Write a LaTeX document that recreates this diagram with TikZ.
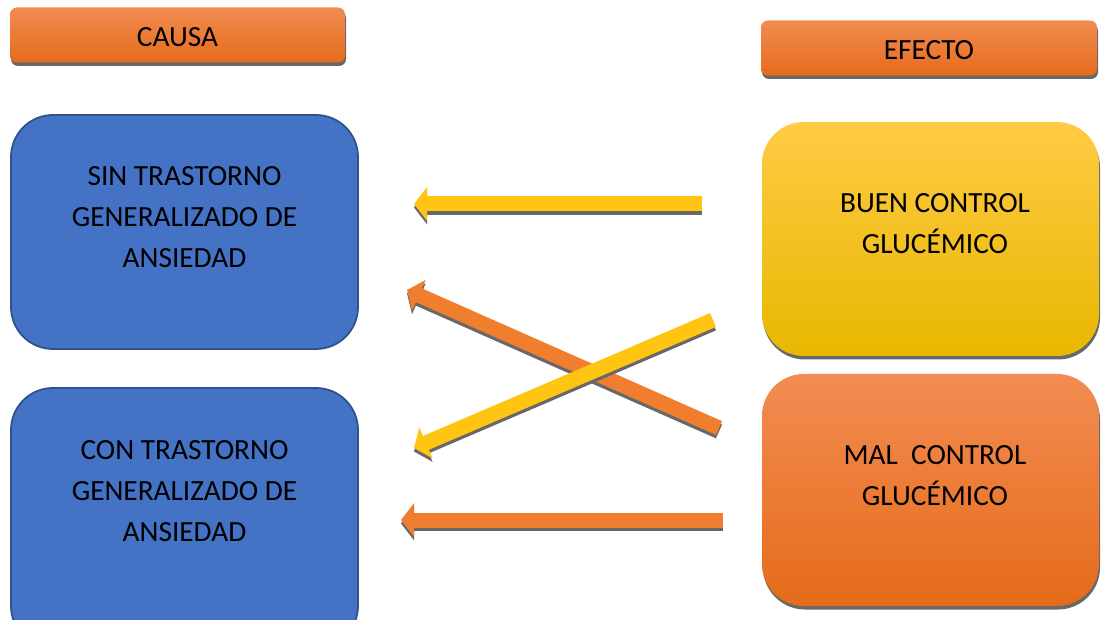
\documentclass[tikz,border=0pt]{standalone}
\usepackage{fontspec}
\setmainfont{Carlito}
\usetikzlibrary{arrows.meta,shadows}
\definecolor{bluefill}{HTML}{4472C4}
\definecolor{blueline}{HTML}{2F528F}
\definecolor{orTop}{HTML}{F28C52}
\definecolor{orMid}{HTML}{F47E2C}
\definecolor{orBot}{HTML}{E56B1A}
\definecolor{yeTop}{HTML}{FFCB45}
\definecolor{yeMid}{HTML}{FFC20A}
\definecolor{yeBot}{HTML}{E8B700}
\definecolor{yeArrow}{HTML}{FFC512}
\definecolor{orArrow}{HTML}{F07E2E}
\definecolor{shadowgray}{HTML}{686868}
\tikzset{
  sh/.style={drop shadow={shadow xshift=1pt,shadow yshift=-3.5pt,fill=shadowgray,opacity=1}},
  headbox/.style={rectangle,rounded corners=7pt,minimum width=335pt,minimum height=55pt,
    top color=orTop,middle color=orMid,bottom color=orBot,sh,inner sep=0pt},
  causebox/.style={rectangle,rounded corners=42pt,minimum width=347pt,minimum height=234pt,
    fill=bluefill,draw=blueline,line width=1.8pt,inner sep=0pt},
  yellowbox/.style={rectangle,rounded corners=42pt,minimum width=337pt,minimum height=234pt,
    top color=yeTop,middle color=yeMid,bottom color=yeBot,sh,inner sep=0pt},
  orangebox/.style={rectangle,rounded corners=42pt,minimum width=337pt,minimum height=232pt,
    top color=orTop,middle color=orMid,bottom color=orBot,sh,inner sep=0pt},
  label/.style={align=center,font=\fontsize{29.3}{41}\selectfont,text=black,inner sep=0pt},
  arrowbase/.style={line width=15pt,-{Triangle[length=13pt,width=33pt]}},
  arrowshadow/.style={arrowbase,draw=shadowgray},
  yarrow/.style={arrowbase,draw=yeArrow},
  oarrow/.style={arrowbase,draw=orArrow},
}
\begin{document}
\begin{tikzpicture}[x=1pt,y=-1pt]
\useasboundingbox (0,0) rectangle (1101,620);
\clip (0,0) rectangle (1101,620);
% header boxes
\node[headbox] (causa) at (177.5,35) {};
\node[label] (causaT) at (177.5,37) {CAUSA};
\node[headbox,minimum width=336pt] (efecto) at (929,48) {};
\node[label] (efectoT) at (929,50) {EFECTO};
% cause boxes
\node[causebox] (sin) at (184.5,232) {};
\node[label] (sinT) at (184.5,217) {SIN TRASTORNO\\GENERALIZADO DE\\ANSIEDAD};
\node[causebox,minimum height=260pt] (con) at (184.5,518) {};
\node[label] (conT) at (184.5,491) {CON TRASTORNO\\GENERALIZADO DE\\ANSIEDAD};
% effect boxes
\node[yellowbox] (buen) at (930.5,239) {};
\node[label] (buenT) at (935,223.5) {BUEN CONTROL\\GLUCÉMICO};
\node[orangebox] (mal) at (930.5,490) {};
\node[label] (malT) at (935,475.5) {MAL\ \ CONTROL\\GLUCÉMICO};
% arrow end points
\coordinate (a1s) at (702,204);
\coordinate (a1e) at (414,204);
\coordinate (a2s) at (719,428);
\coordinate (a2e) at (407,290);
\coordinate (a3s) at (713,320);
\coordinate (a3e) at (414,448);
\coordinate (a4s) at (723,520);
\coordinate (a4e) at (401,520);
% shadows
\begin{scope}[transform canvas={yshift=-3.5pt}]
\draw[arrowshadow] (a1s) -- (a1e);
\draw[arrowshadow] (a2s) -- (a2e);
\draw[arrowshadow] (a4s) -- (a4e);
\end{scope}
% arrows
\draw[yarrow] (a1s) -- (a1e);
\draw[oarrow] (a2s) -- (a2e);
\begin{scope}[transform canvas={yshift=-3.5pt}]
\draw[arrowshadow] (a3s) -- (a3e);
\end{scope}
\draw[yarrow] (a3s) -- (a3e);
\draw[oarrow] (a4s) -- (a4e);
\end{tikzpicture}
\end{document}
